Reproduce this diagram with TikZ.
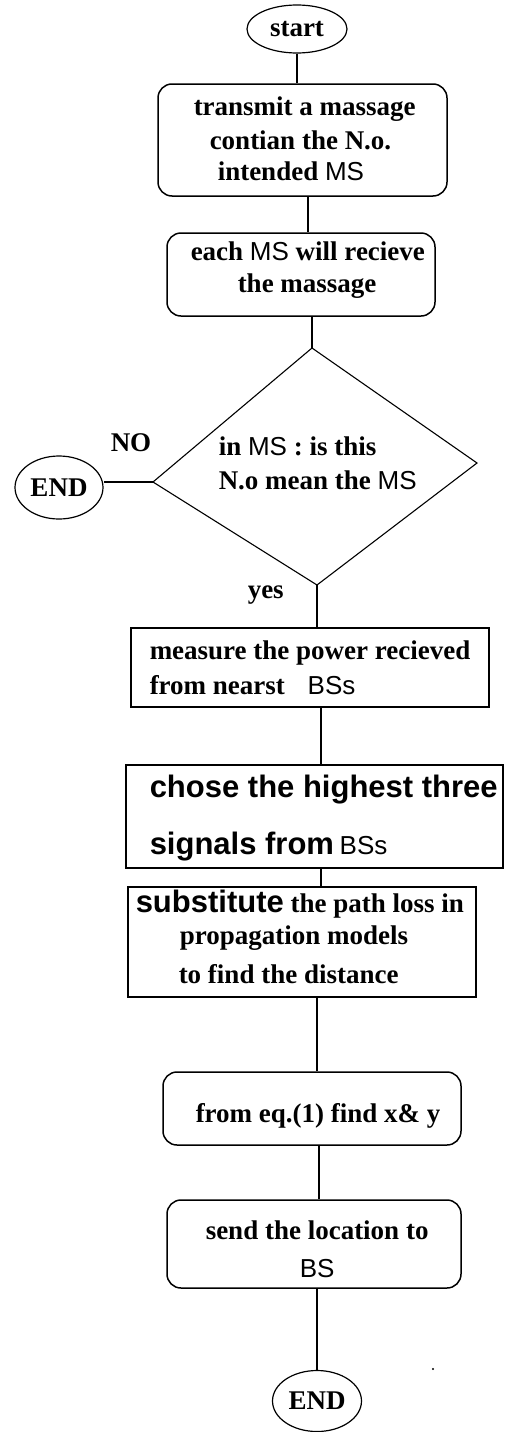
\documentclass[tikz,border=0pt]{standalone}
\usepackage{fontspec}
\setmainfont{Liberation Serif}
\setsansfont{Liberation Sans}
\usetikzlibrary{shapes.geometric}
\newcommand\ssf[1]{{\sffamily\mdseries\fontsize{26}{30}\selectfont #1}}
\begin{document}
\begin{tikzpicture}[x=1pt,y=-1pt,
  line width=1.5pt,
  rbox/.style={draw, rectangle, rounded corners=14pt, inner sep=0pt},
  sbox/.style={draw, rectangle, inner sep=0pt},
  term/.style={draw, ellipse, inner sep=0pt, line width=1.2pt, font=\bfseries\fontsize{27}{30}\selectfont},
  txt/.style={anchor=base west, inner sep=0pt, font=\bfseries\fontsize{27}{30}\selectfont},
  stxt/.style={anchor=base west, inner sep=0pt, font=\sffamily\bfseries\fontsize{31}{34}\selectfont},
  link/.style={draw, line width=1.5pt}]
\useasboundingbox (0,0) rectangle (515,1432);
% terminal start
\node[term, minimum width=100pt, minimum height=48pt] (start) at (297,29) {start};
% box 1
\node[rbox, minimum width=289pt, minimum height=112pt] (b1) at (302.5,140) {};
\node[txt] (t1a) at (193,115) {transmit a massage};
\node[txt] (t1b) at (209,149) {contian the N.o.};
\node[txt] (t1c) at (217,180) {intended \ssf{MS}};
% box 2
\node[rbox, minimum width=268pt, minimum height=83pt] (b2) at (301,274.5) {};
\node[txt] (t2a) at (190,260) {each \ssf{MS} will recieve};
\node[txt] (t2b) at (237,292) {the massage};
% decision
\coordinate (dtop) at (312,348);
\coordinate (dright) at (477,463);
\coordinate (dbot) at (317,585);
\coordinate (dleft) at (153,482);
\draw[line width=1.1pt] (dtop) -- (dright) -- (dbot) -- (dleft) -- cycle;
\node[txt] (t3a) at (218,455) {in \ssf{MS} : is this};
\node[txt] (t3b) at (218,489) {N.o mean the \ssf{MS}};
\node[txt] (no) at (110,451) {NO};
\node[term, minimum width=88pt, minimum height=63pt] (endA) at (59,487.5) {END};
\node[txt] (yes) at (247,598) {yes};
% box 3
\node[sbox, minimum width=358pt, minimum height=79pt] (b3) at (310,667.5) {};
\node[txt] (t4a) at (149,659) {measure the power recieved};
\node[txt] (t4b) at (149,694) {from nearst\hspace{16pt} \ssf{BSs}};
% box 4
\node[sbox, minimum width=377pt, minimum height=103pt] (b4) at (314.5,816.5) {};
\node[stxt] (t5a) at (149,797) {chose the highest three};
\node[stxt] (t5b) at (149,854) {signals from\hspace{-3pt} \ssf{BSs}};
% box 5
\node[sbox, minimum width=348pt, minimum height=110pt] (b5) at (302,942) {};
\node[txt] (t6a) at (135,912) {{\sffamily\bfseries\fontsize{31}{34}\selectfont substitute} the path loss in};
\node[txt] (t6b) at (179,944) {propagation models};
\node[txt] (t6c) at (178,983) {to find the distance};
% box 6
\node[rbox, minimum width=298pt, minimum height=73pt] (b6) at (312,1108.5) {};
\node[txt] (t7) at (195,1122) {from eq.(1) find x\& y};
% box 7
\node[rbox, minimum width=294pt, minimum height=88pt] (b7) at (314,1244) {};
\node[txt] (t8a) at (205,1239) {send the location to};
\node[anchor=base west, inner sep=0pt] (t8b) at (299,1277) {\ssf{BS}};
% terminal end
\node[term, minimum width=89pt, minimum height=61pt] (endB) at (317,1401) {END};
\fill (433,1369) circle (1.2pt);
% connectors
\draw[link] (start.south) -- (start.south |- b1.north);
\draw[link] ([xshift=5.5pt]b1.south) -- ([xshift=5.5pt]b1.south |- b2.north);
\draw[link] (dtop |- b2.south) -- (dtop);
\draw[link] (dbot) -- (dbot |- b3.north);
\draw[link] ([xshift=11pt]b3.south) -- ([xshift=11pt]b3.south |- b4.north);
\draw[link] ([xshift=6.5pt]b4.south) -- ([xshift=6.5pt]b4.south |- b5.north);
\draw[link] ([xshift=15pt]b5.south) -- ([xshift=15pt]b5.south |- b6.north);
\draw[link] ([xshift=7pt]b6.south) -- ([xshift=7pt]b6.south |- b7.north);
\draw[link] (endB.north |- b7.south) -- (endB.north);
\draw[link] (dleft) -- (dleft -| endA.east);
\end{tikzpicture}
\end{document}
